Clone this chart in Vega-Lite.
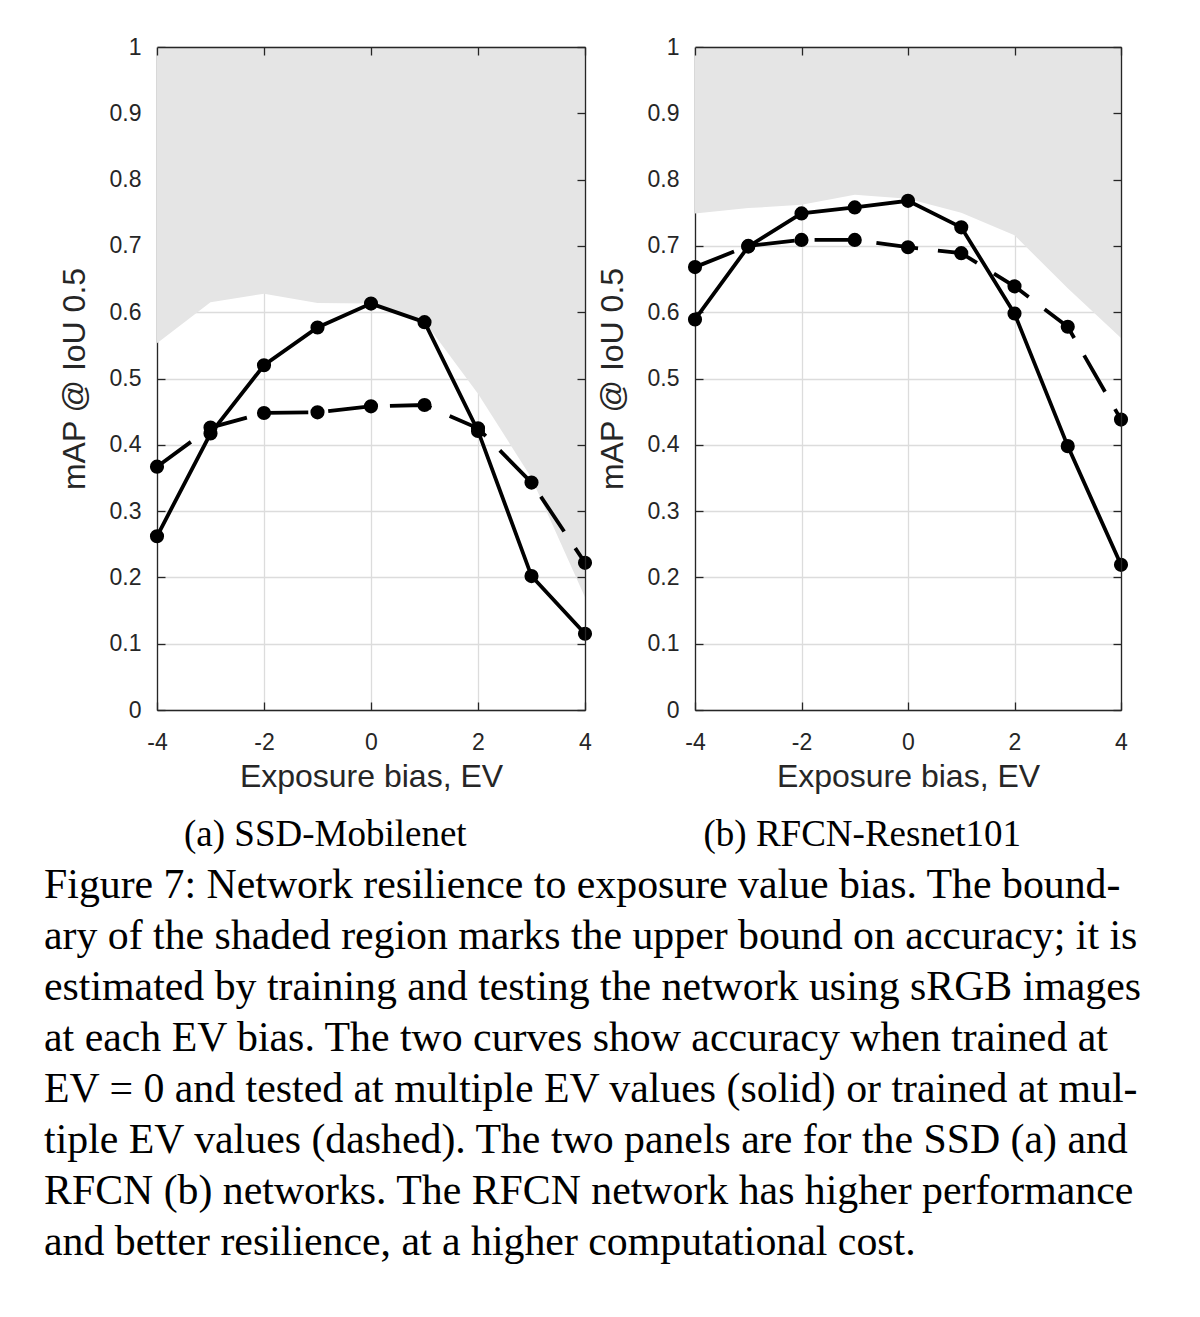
{
  "$schema": "https://vega.github.io/schema/vega-lite/v6.json",
  "background": "white",
  "padding": {"left": 44, "top": 36, "right": 40, "bottom": 40},
  "bounds": "flush",
  "spacing": 110,
  "config": {
    "view": {"stroke": null},
    "axis": {
      "domainColor": "#262626",
      "domainWidth": 1.3,
      "tickColor": "#262626",
      "tickWidth": 1.3,
      "tickSize": -8,
      "labelColor": "#262626",
      "labelFont": "Liberation Sans",
      "labelFontSize": 23,
      "labelFlush": false,
      "titleColor": "#262626",
      "titleFont": "Liberation Sans",
      "titleFontSize": 32,
      "titleFontWeight": "normal",
      "gridColor": "#dcdcdc",
      "gridWidth": 1.3
    }
  },
  "data": {
    "values": [
      {"panel": "a", "ev": -4, "bound": 0.553, "solid": 0.262, "dashed": 0.367},
      {"panel": "a", "ev": -3, "bound": 0.615, "solid": 0.417, "dashed": 0.426},
      {"panel": "a", "ev": -2, "bound": 0.628, "solid": 0.520, "dashed": 0.448},
      {"panel": "a", "ev": -1, "bound": 0.614, "solid": 0.577, "dashed": 0.449},
      {"panel": "a", "ev": 0, "bound": 0.613, "solid": 0.613, "dashed": 0.458},
      {"panel": "a", "ev": 1, "bound": 0.586, "solid": 0.585, "dashed": 0.460},
      {"panel": "a", "ev": 2, "bound": 0.477, "solid": 0.421, "dashed": 0.425},
      {"panel": "a", "ev": 3, "bound": 0.350, "solid": 0.202, "dashed": 0.343},
      {"panel": "a", "ev": 4, "bound": 0.170, "solid": 0.115, "dashed": 0.222},
      {"panel": "b", "ev": -4, "bound": 0.749, "solid": 0.589, "dashed": 0.668},
      {"panel": "b", "ev": -3, "bound": 0.757, "solid": 0.699, "dashed": 0.700},
      {"panel": "b", "ev": -2, "bound": 0.762, "solid": 0.749, "dashed": 0.709},
      {"panel": "b", "ev": -1, "bound": 0.777, "solid": 0.758, "dashed": 0.709},
      {"panel": "b", "ev": 0, "bound": 0.771, "solid": 0.768, "dashed": 0.698},
      {"panel": "b", "ev": 1, "bound": 0.750, "solid": 0.728, "dashed": 0.689},
      {"panel": "b", "ev": 2, "bound": 0.716, "solid": 0.598, "dashed": 0.639},
      {"panel": "b", "ev": 3, "bound": 0.636, "solid": 0.398, "dashed": 0.578},
      {"panel": "b", "ev": 4, "bound": 0.561, "solid": 0.219, "dashed": 0.438}
    ]
  },
  "title": {
    "text": [
      "Figure 7: Network resilience to exposure value bias. The bound-",
      "ary of the shaded region marks the upper bound on accuracy; it is",
      "estimated by training and testing the network using sRGB images",
      "at each EV bias. The two curves show accuracy when trained at",
      "EV = 0 and tested at multiple EV values (solid) or trained at mul-",
      "tiple EV values (dashed). The two panels are for the SSD (a) and",
      "RFCN (b) networks. The RFCN network has higher performance",
      "and better resilience, at a higher computational cost."
    ],
    "orient": "bottom",
    "anchor": "start",
    "frame": "bounds",
    "font": "Liberation Serif",
    "fontSize": 41.8,
    "fontWeight": "normal",
    "lineHeight": 51,
    "color": "black",
    "offset": 12,
    "dx": -14
  },
  "hconcat": [
    {
      "width": 428,
      "height": 663,
      "title": {"text": "(a) SSD-Mobilenet", "orient": "bottom", "anchor": "middle", "frame": "bounds", "font": "Liberation Serif", "fontSize": 37, "fontWeight": "normal", "color": "black", "offset": 25},
      "transform": [{"filter": "datum.panel === 'a'"}],
      "layer": [
        {
          "mark": {"type": "area", "color": "#e5e5e5", "opacity": 1},
          "encoding": {
            "x": {"field": "ev", "type": "quantitative", "scale": {"domain": [-4, 4], "nice": false},
              "axis": {"orient": "bottom", "values": [-4, -2, 0, 2, 4], "labelExpr": "'' + datum.value", "grid": true, "labelPadding": 29, "title": "Exposure bias, EV", "titlePadding": 7, "zindex": 0}},
            "y": {"field": "bound", "type": "quantitative", "scale": {"domain": [0, 1], "nice": false},
              "axis": {"orient": "left", "values": [0, 0.1, 0.2, 0.3, 0.4, 0.5, 0.6, 0.7, 0.8, 0.9, 1], "labelExpr": "'' + datum.value", "grid": true, "labelPadding": 24, "title": "mAP @ IoU 0.5", "titlePadding": 18, "zindex": 0}},
            "y2": {"datum": 1}
          }
        },
        {
          "mark": {"type": "line", "color": "black", "strokeWidth": 3.8, "strokeDash": [42, 20], "point": {"filled": true, "size": 200, "color": "black"}},
          "encoding": {
            "x": {"field": "ev", "type": "quantitative", "axis": {"orient": "top", "values": [-4, -2, 0, 2, 4], "labels": false, "grid": false, "title": null, "zindex": 1}},
            "y": {"field": "dashed", "type": "quantitative", "axis": {"orient": "right", "values": [0, 0.1, 0.2, 0.3, 0.4, 0.5, 0.6, 0.7, 0.8, 0.9, 1], "labels": false, "grid": false, "title": null, "zindex": 1}}
          }
        },
        {
          "mark": {"type": "line", "color": "black", "strokeWidth": 3.8, "point": {"filled": true, "size": 200, "color": "black"}},
          "encoding": {
            "x": {"field": "ev", "type": "quantitative", "axis": null},
            "y": {"field": "solid", "type": "quantitative", "axis": null}
          }
        }
      ]
    },
    {
      "width": 426,
      "height": 663,
      "title": {"text": "(b) RFCN-Resnet101", "orient": "bottom", "anchor": "middle", "frame": "bounds", "font": "Liberation Serif", "fontSize": 37, "fontWeight": "normal", "color": "black", "offset": 25},
      "transform": [{"filter": "datum.panel === 'b'"}],
      "layer": [
        {
          "mark": {"type": "area", "color": "#e5e5e5", "opacity": 1},
          "encoding": {
            "x": {"field": "ev", "type": "quantitative", "scale": {"domain": [-4, 4], "nice": false},
              "axis": {"orient": "bottom", "values": [-4, -2, 0, 2, 4], "labelExpr": "'' + datum.value", "grid": true, "labelPadding": 29, "title": "Exposure bias, EV", "titlePadding": 7, "zindex": 0}},
            "y": {"field": "bound", "type": "quantitative", "scale": {"domain": [0, 1], "nice": false},
              "axis": {"orient": "left", "values": [0, 0.1, 0.2, 0.3, 0.4, 0.5, 0.6, 0.7, 0.8, 0.9, 1], "labelExpr": "'' + datum.value", "grid": true, "labelPadding": 24, "title": "mAP @ IoU 0.5", "titlePadding": 18, "zindex": 0}},
            "y2": {"datum": 1}
          }
        },
        {
          "mark": {"type": "line", "color": "black", "strokeWidth": 3.8, "strokeDash": [42, 20], "point": {"filled": true, "size": 200, "color": "black"}},
          "encoding": {
            "x": {"field": "ev", "type": "quantitative", "axis": {"orient": "top", "values": [-4, -2, 0, 2, 4], "labels": false, "grid": false, "title": null, "zindex": 1}},
            "y": {"field": "dashed", "type": "quantitative", "axis": {"orient": "right", "values": [0, 0.1, 0.2, 0.3, 0.4, 0.5, 0.6, 0.7, 0.8, 0.9, 1], "labels": false, "grid": false, "title": null, "zindex": 1}}
          }
        },
        {
          "mark": {"type": "line", "color": "black", "strokeWidth": 3.8, "point": {"filled": true, "size": 200, "color": "black"}},
          "encoding": {
            "x": {"field": "ev", "type": "quantitative", "axis": null},
            "y": {"field": "solid", "type": "quantitative", "axis": null}
          }
        }
      ]
    }
  ]
}
